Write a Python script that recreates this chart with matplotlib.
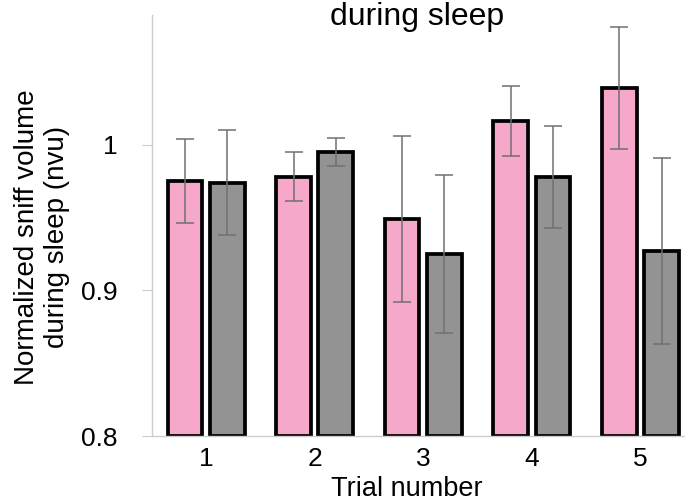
import matplotlib
matplotlib.use('Agg')
import matplotlib.pyplot as plt
import numpy as np

plt.rcParams['font.family'] = ['Liberation Sans', 'DejaVu Sans']

trials = [1, 2, 3, 4, 5]
pink_vals = [0.975, 0.978, 0.949, 1.016, 1.039]
pink_err = [0.029, 0.017, 0.057, 0.024, 0.042]
gray_vals = [0.974, 0.995, 0.925, 0.978, 0.927]
gray_err = [0.036, 0.0095, 0.054, 0.035, 0.064]

fig = plt.figure(figsize=(6.85, 5.01), dpi=100)
ax = fig.add_axes([152/685, 65/501, 1 - 152/685, (436 - 15)/501])

x = np.array(trials)
w = 0.32
off = 0.195
err_kw = dict(ecolor='#707070', elinewidth=1.1, capsize=6.5, capthick=1.1)
ax.bar(x - off, np.array(pink_vals) - 0.8, w, bottom=0.8, yerr=pink_err,
       color='#F5A8C9', edgecolor='black', linewidth=2.7, error_kw=err_kw, zorder=2)
ax.bar(x + off, np.array(gray_vals) - 0.8, w, bottom=0.8, yerr=gray_err,
       color='#939393', edgecolor='black', linewidth=2.7, error_kw=err_kw, zorder=2)

ax.set_ylim(0.8, 1.089)
ax.set_xlim(0.502, 5.41)
ax.set_yticks([0.8, 0.9, 1.0])
ax.set_yticklabels(['0.8', '0.9', '1'])
ax.set_xticks(trials)
ax.tick_params(axis='y', labelsize=19, length=7, color='#cccccc', pad=18)
ax.tick_params(axis='x', labelsize=19, length=0, pad=8)

for s in ['top', 'right']:
    ax.spines[s].set_visible(False)
for s in ['left', 'bottom']:
    ax.spines[s].set_color('#cccccc')
    ax.spines[s].set_linewidth(1.0)

ax.set_ylabel('Normalized sniff volume\nduring sleep (nvu)', fontsize=20)
ax.yaxis.set_label_coords((70 - 152) / (685 - 152), (436 - 237) / 421)
ax.set_xlabel('Trial number', fontsize=19.5)
ax.xaxis.set_label_coords((407 - 152) / (685 - 152), (436 - 476) / 421)

fig.text(417/685, 1 - 25/501, 'during sleep', fontsize=23, ha='center', va='baseline')

fig.savefig('out.png', dpi=100)
